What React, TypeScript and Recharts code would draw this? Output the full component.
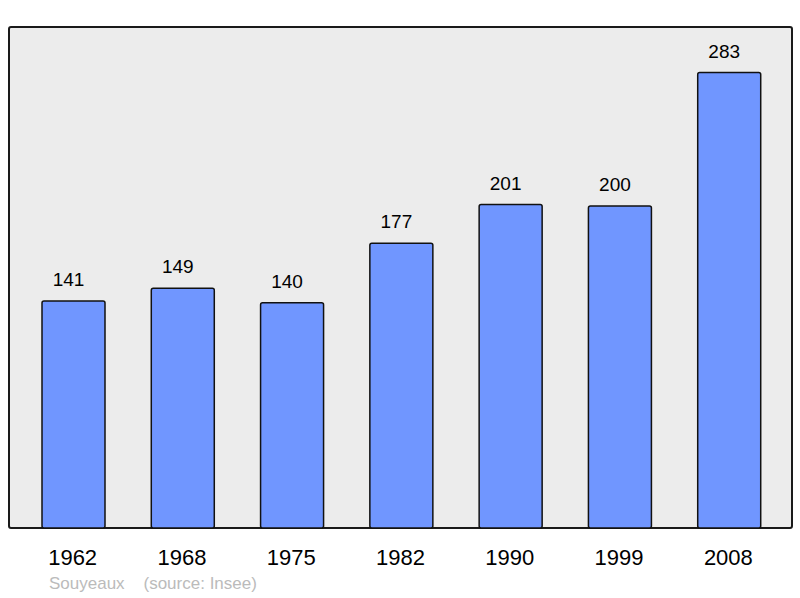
import React from "react";
import { BarChart, Bar, XAxis, YAxis, LabelList } from "recharts";

const years = ["1962", "1968", "1975", "1982", "1990", "1999", "2008"];
const population = [141, 149, 140, 177, 201, 200, 283];
const sourceLabel = "Souyeaux    (source: Insee)";

const data = years.map((y, i) => ({ year: y, pop: population[i] }));

const FONT = "'Liberation Sans', Arial, sans-serif";

const YearTick = (props: any) => {
  const { x, y, payload } = props;
  return (
    <text x={x - 1} y={y + 29} textAnchor="middle" fontSize={22} fill="#000" fontFamily={FONT}>
      {payload.value}
    </text>
  );
};

const ValueLabel = (props: any) => {
  const { x, y, width, value } = props;
  return (
    <text x={x + width / 2 - 5} y={y - 15} textAnchor="middle" fontSize={19} fill="#000" fontFamily={FONT}>
      {value}
    </text>
  );
};

export default function App() {
  return (
    <div style={{ position: "absolute", left: 0, top: 0, width: 800, height: 598, background: "#fff" }}>
      <div
        style={{
          position: "absolute",
          left: 8,
          top: 26,
          width: 781,
          height: 499,
          border: "2px solid #1a1a1a",
          borderRadius: 3,
          background: "#ececec",
        }}
      />
      <div style={{ position: "absolute", left: 0, top: 0 }}>
        <BarChart
          width={800}
          height={598}
          data={data}
          margin={{ top: 27, left: 9, right: 8, bottom: 0 }}
          barCategoryGap={0}
        >
          <XAxis
            dataKey="year"
            axisLine={false}
            tickLine={false}
            height={70}
            interval={0}
            padding={{ left: 10, right: 8 }}
            tick={<YearTick />}
          />
          <YAxis hide domain={[0, 311.3]} />
          <Bar
            dataKey="pop"
            fill="#7096ff"
            stroke="#111"
            strokeWidth={1.5}
            barSize={63}
            radius={2}
            isAnimationActive={false}
          >
            <LabelList dataKey="pop" content={<ValueLabel />} />
          </Bar>
        </BarChart>
      </div>
      <div
        style={{
          position: "absolute",
          left: 49,
          top: 575,
          fontSize: 17,
          color: "#bbb",
          fontFamily: FONT,
          whiteSpace: "pre",
          lineHeight: "18px",
        }}
      >
        {sourceLabel}
      </div>
    </div>
  );
}
